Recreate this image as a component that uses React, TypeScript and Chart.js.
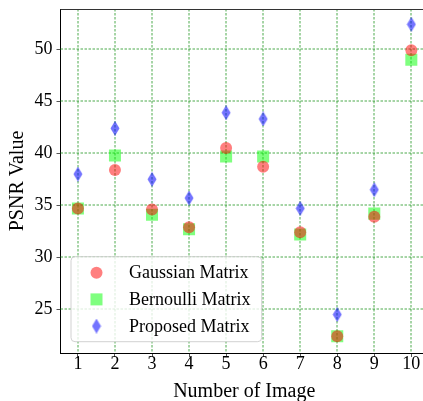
import React, { useEffect, useRef } from "react";
import { Chart, registerables } from "chart.js";

Chart.register(...registerables);

const images = [1, 2, 3, 4, 5, 6, 7, 8, 9, 10];
const gaussian = [34.7, 38.4, 34.6, 32.9, 40.5, 38.7, 32.4, 22.4, 33.9, 49.9];
const bernoulli = [34.7, 39.8, 34.1, 32.7, 39.7, 39.7, 32.2, 22.4, 34.2, 49.0];
const proposed = [38.0, 42.4, 37.5, 35.7, 43.9, 43.3, 34.7, 24.5, 36.5, 52.4];
const seriesLabels = ["Gaussian Matrix", "Bernoulli Matrix", "Proposed Matrix"];
const xTicks = [1, 2, 3, 4, 5, 6, 7, 8, 9, 10];
const yTicks = [25, 30, 35, 40, 45, 50];

const FONT = '"Liberation Serif", "Times New Roman", serif';
const RED = "rgba(255,0,0,0.5)";
const GREEN = "rgba(0,255,0,0.5)";
const BLUE = "rgba(0,0,255,0.55)";
const GRID = "rgb(30,150,30)";

function makeDiamond(): HTMLCanvasElement {
  const c = document.createElement("canvas");
  c.width = 10;
  c.height = 15;
  const ctx = c.getContext("2d")!;
  ctx.fillStyle = BLUE;
  ctx.beginPath();
  ctx.moveTo(5, 0);
  ctx.lineTo(9.5, 7.5);
  ctx.lineTo(5, 15);
  ctx.lineTo(0.5, 7.5);
  ctx.closePath();
  ctx.fill();
  return c;
}

function drawMarker(ctx: CanvasRenderingContext2D, kind: number, x: number, y: number, diamond: HTMLCanvasElement) {
  ctx.save();
  if (kind === 0) {
    ctx.fillStyle = RED;
    ctx.beginPath();
    ctx.arc(x, y, 6, 0, Math.PI * 2);
    ctx.fill();
  } else if (kind === 1) {
    ctx.fillStyle = GREEN;
    ctx.fillRect(x - 6, y - 6, 12, 12);
  } else {
    ctx.drawImage(diamond, x - diamond.width / 2, y - diamond.height / 2);
  }
  ctx.restore();
}

function makeGrid() {
  return {
    display: true,
    drawOnChartArea: false,
    color: GRID,
    lineWidth: 1,
    drawTicks: true,
    tickLength: 4,
    tickColor: "#555",
    tickWidth: 1,
  };
}

export default function App() {
  const ref = useRef<HTMLCanvasElement>(null);
  useEffect(() => {
    const canvas = ref.current!;
    const diamond = makeDiamond();
    const toPts = (arr: number[]) => arr.map((v, i) => ({ x: images[i], y: v }));

    const gridPlugin = {
      id: "dottedGrid",
      beforeDatasetsDraw(chart: any) {
        const { ctx, chartArea: ca, scales } = chart;
        ctx.save();
        ctx.strokeStyle = GRID;
        ctx.lineWidth = 0.8;
        ctx.setLineDash([2.5, 1.5]);
        ctx.beginPath();
        xTicks.forEach((v) => {
          const px = Math.round(scales.x.getPixelForValue(v));
          ctx.moveTo(px, ca.top);
          ctx.lineTo(px, ca.bottom);
        });
        yTicks.forEach((v) => {
          const py = Math.round(scales.y.getPixelForValue(v));
          ctx.moveTo(ca.left, py);
          ctx.lineTo(ca.right, py);
        });
        ctx.stroke();
        ctx.restore();
      },
    };

    const framePlugin = {
      id: "frameLegend",
      afterDatasetsDraw(chart: any) {
        const { ctx, chartArea: ca } = chart;
        ctx.save();
        ctx.setLineDash([]);
        ctx.strokeStyle = "#333";
        ctx.lineWidth = 1;
        ctx.beginPath();
        ctx.moveTo(ca.left, ca.top + 0.5);
        ctx.lineTo(ca.right, ca.top + 0.5);
        ctx.moveTo(ca.right - 0.5, ca.top);
        ctx.lineTo(ca.right - 0.5, ca.bottom);
        ctx.stroke();

        // legend box
        const bx = ca.left + 10.5;
        const by = ca.top + 247.7;
        const bw = 190.7;
        const bh = 85;
        const r = 4;
        ctx.beginPath();
        ctx.moveTo(bx + r, by);
        ctx.lineTo(bx + bw - r, by);
        ctx.quadraticCurveTo(bx + bw, by, bx + bw, by + r);
        ctx.lineTo(bx + bw, by + bh - r);
        ctx.quadraticCurveTo(bx + bw, by + bh, bx + bw - r, by + bh);
        ctx.lineTo(bx + r, by + bh);
        ctx.quadraticCurveTo(bx, by + bh, bx, by + bh - r);
        ctx.lineTo(bx, by + r);
        ctx.quadraticCurveTo(bx, by, bx + r, by);
        ctx.closePath();
        ctx.fillStyle = "rgba(255,255,255,0.8)";
        ctx.fill();
        ctx.strokeStyle = "rgba(204,204,204,0.9)";
        ctx.lineWidth = 1;
        ctx.stroke();

        ctx.font = `18px ${FONT}`;
        ctx.fillStyle = "#000";
        ctx.textBaseline = "middle";
        ctx.textAlign = "left";
        seriesLabels.forEach((lab, i) => {
          const yy = by + 16 + i * 26.7;
          drawMarker(ctx, i, bx + 25.5, yy, diamond);
          ctx.fillText(lab, bx + 58, yy + 1);
        });
        ctx.restore();
      },
    };

    const chart = new Chart(canvas, {
      type: "scatter",
      data: {
        datasets: [
          {
            label: seriesLabels[0],
            data: toPts(gaussian),
            pointStyle: "circle",
            pointRadius: 6,
            pointBorderWidth: 0,
            backgroundColor: RED,
            borderColor: "rgba(0,0,0,0)",
          },
          {
            label: seriesLabels[1],
            data: toPts(bernoulli),
            pointStyle: "rect",
            pointRadius: 8.5,
            pointBorderWidth: 0,
            backgroundColor: GREEN,
            borderColor: "rgba(0,0,0,0)",
          },
          {
            label: seriesLabels[2],
            data: toPts(proposed),
            pointStyle: diamond as any,
            pointRadius: 7,
            pointBorderWidth: 0,
            backgroundColor: BLUE,
            borderColor: "rgba(0,0,0,0)",
          },
        ],
      },
      options: {
        responsive: false,
        animation: false,
        events: [],
        layout: { padding: { top: 9, right: 12, left: 0, bottom: 0 } },
        plugins: { legend: { display: false }, tooltip: { enabled: false } },
        scales: {
          x: {
            type: "linear",
            min: 0.53,
            max: 10.45,
            afterBuildTicks: (s: any) => {
              s.ticks = xTicks.map((v) => ({ value: v }));
            },
            afterFit: (s: any) => {
              s.height = 48;
              s.paddingLeft = 0;
              s.paddingRight = 0;
            },
            grid: makeGrid() as any,
            border: { display: true, color: "#000", width: 1 } as any,
            ticks: {
              color: "#000",
              padding: -3.5,
              font: { family: FONT, size: 18 },
              callback: (v: any) => String(v),
            },
            title: {
              display: true,
              text: "Number of Image",
              color: "#000",
              font: { family: FONT, size: 20 },
              padding: { top: 0, bottom: -3 },
            },
          },
          y: {
            type: "linear",
            min: 20.8,
            max: 53.875,
            afterBuildTicks: (s: any) => {
              s.ticks = yTicks.map((v) => ({ value: v }));
            },
            afterFit: (s: any) => {
              s.width = 60.5;
              s.paddingTop = 0;
              s.paddingBottom = 0;
            },
            grid: makeGrid() as any,
            border: { display: true, color: "#000", width: 1 } as any,
            ticks: {
              color: "#000",
              padding: 4,
              font: { family: FONT, size: 18 },
              callback: (v: any) => String(v),
            },
            title: {
              display: true,
              text: "PSNR Value",
              color: "#000",
              font: { family: FONT, size: 20 },
              padding: { top: 6, bottom: 0 },
            },
          },
        },
      },
      plugins: [gridPlugin, framePlugin],
    });
    return () => chart.destroy();
  }, []);

  return (
    <div
      style={{
        position: "fixed",
        left: 0,
        top: 0,
        width: 423,
        height: 401,
        overflow: "hidden",
        background: "#fff",
      }}
    >
      <canvas ref={ref} width={440} height={401} style={{ display: "block" }} />
    </div>
  );
}
